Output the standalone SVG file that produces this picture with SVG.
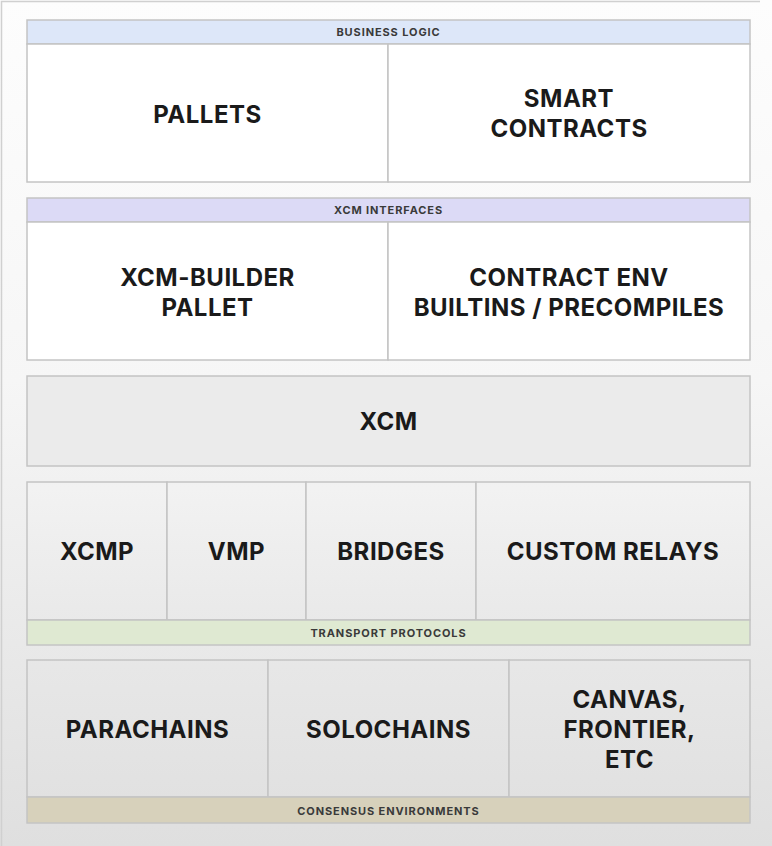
<svg xmlns="http://www.w3.org/2000/svg" width="772" height="846" viewBox="0 0 772 846">
<defs>
<linearGradient id="bg" x1="0" y1="0" x2="0" y2="846" gradientUnits="userSpaceOnUse">
<stop offset="0" stop-color="#fdfdfd"/>
<stop offset="0.45" stop-color="#f6f6f6"/>
<stop offset="1" stop-color="#dfdfdf"/>
</linearGradient>
<linearGradient id="boxg" x1="0" y1="376" x2="0" y2="823" gradientUnits="userSpaceOnUse">
<stop offset="0" stop-color="#ececec"/>
<stop offset="0.25" stop-color="#f2f2f2"/>
<stop offset="0.55" stop-color="#e9e9e9"/>
<stop offset="1" stop-color="#e0e0e0"/>
</linearGradient>
<style>
.cell{stroke:#c4c4c4;stroke-width:1.5}
.w{fill:#ffffff}
.g{fill:url(#boxg)}
.t{font-family:Inter,"Liberation Sans",sans-serif;font-weight:700;font-size:24px;letter-spacing:0.5px;fill:#1a1a1a;text-anchor:middle}
.h{font-family:Inter,"Liberation Sans",sans-serif;font-weight:700;font-size:11px;letter-spacing:0.9px;fill:#3a3a3a;text-anchor:middle}
</style>
</defs>
<rect x="0" y="0" width="772" height="846" fill="url(#bg)"/>
<path d="M1.5 846 V1.5 H760" fill="none" stroke="#d0d0d0" stroke-width="1.5"/>

<g id="business-logic">
<rect class="cell" x="27" y="20" width="723" height="24" fill="#dde7f9"/>
<text class="h" x="388.5" y="36">BUSINESS LOGIC</text>
</g>
<g id="pallets">
<rect class="cell w" x="27" y="44" width="361" height="138"/>
<text class="t" x="207.5" y="122.5">PALLETS</text>
</g>
<g id="smart-contracts">
<rect class="cell w" x="388" y="44" width="362" height="138"/>
<text class="t" x="569" y="107">SMART</text>
<text class="t" x="569" y="137">CONTRACTS</text>
</g>

<g id="xcm-interfaces">
<rect class="cell" x="27" y="198" width="723" height="24" fill="#dcdaf6"/>
<text class="h" x="388.5" y="214">XCM INTERFACES</text>
</g>
<g id="xcm-builder">
<rect class="cell w" x="27" y="222" width="361" height="138"/>
<text class="t" x="207.5" y="286">XCM-BUILDER</text>
<text class="t" x="207.5" y="316">PALLET</text>
</g>
<g id="contract-env">
<rect class="cell w" x="388" y="222" width="362" height="138"/>
<text class="t" x="569" y="286">CONTRACT ENV</text>
<text class="t" x="569" y="316">BUILTINS / PRECOMPILES</text>
</g>

<g id="xcm">
<rect class="cell" x="27" y="376" width="723" height="90" fill="#ebebeb"/>
<text class="t" x="388.5" y="430">XCM</text>
</g>

<g id="xcmp">
<rect class="cell g" x="27" y="482" width="140" height="138"/>
<text class="t" x="97" y="560">XCMP</text>
</g>
<g id="vmp">
<rect class="cell g" x="167" y="482" width="139" height="138"/>
<text class="t" x="236.5" y="560">VMP</text>
</g>
<g id="bridges">
<rect class="cell g" x="306" y="482" width="170" height="138"/>
<text class="t" x="391" y="560">BRIDGES</text>
</g>
<g id="custom-relays">
<rect class="cell g" x="476" y="482" width="274" height="138"/>
<text class="t" x="613" y="560">CUSTOM RELAYS</text>
</g>
<g id="transport-protocols">
<rect class="cell" x="27" y="620" width="723" height="25" fill="#dfe9d2"/>
<text class="h" x="388.5" y="636.5">TRANSPORT PROTOCOLS</text>
</g>

<g id="parachains">
<rect class="cell g" x="27" y="660" width="241" height="137"/>
<text class="t" x="147.5" y="738">PARACHAINS</text>
</g>
<g id="solochains">
<rect class="cell g" x="268" y="660" width="241" height="137"/>
<text class="t" x="388.5" y="738">SOLOCHAINS</text>
</g>
<g id="canvas">
<rect class="cell g" x="509" y="660" width="241" height="137"/>
<text class="t" x="629.5" y="708">CANVAS,</text>
<text class="t" x="629.5" y="738">FRONTIER,</text>
<text class="t" x="629.5" y="768">ETC</text>
</g>
<g id="consensus-environments">
<rect class="cell" x="27" y="797" width="723" height="26" fill="#d7d1bb"/>
<text class="h" x="388.5" y="814.5">CONSENSUS ENVIRONMENTS</text>
</g>
<g id="connectors"></g>
</svg>
